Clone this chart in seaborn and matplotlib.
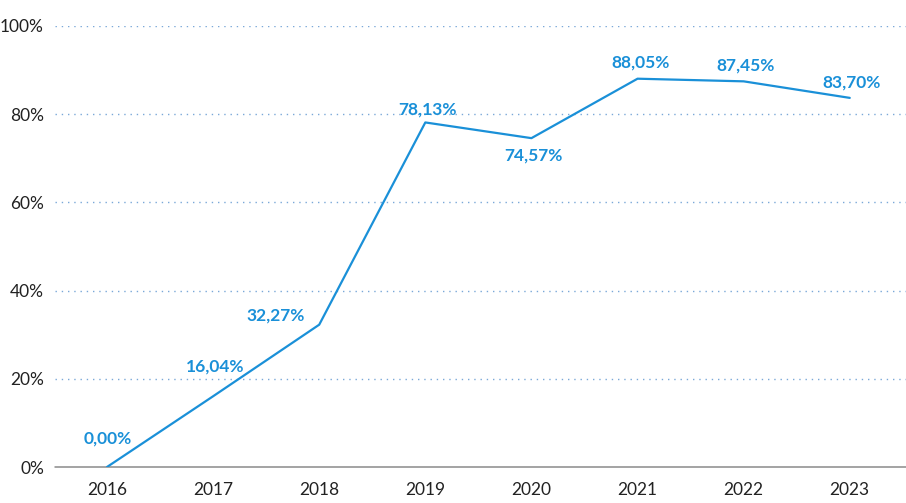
import matplotlib
matplotlib.use("Agg")
import matplotlib.pyplot as plt
import seaborn as sns
import pandas as pd

# === DADOS ===
anos = [2016, 2017, 2018, 2019, 2020, 2021, 2022, 2023]
valores = [0.00, 16.04, 32.27, 78.13, 74.57, 88.05, 87.45, 83.70]
rotulos = ["0,00%", "16,04%", "32,27%", "78,13%", "74,57%", "88,05%", "87,45%", "83,70%"]
# deslocamento dos rótulos (pixels)
offsets = [(1, 28), (2, 30), (-44, 9), (2, 13), (2, -17), (3, 16), (2, 16), (2, 15)]

df = pd.DataFrame({"Ano": anos, "Valor": valores})

azul = "#1a90d8"

sns.set_style("white")
plt.rcParams["font.family"] = ["Lato", "DejaVu Sans"]

fig = plt.figure(figsize=(9.06, 5.03), dpi=100)
ax = fig.add_axes([55 / 906, 1 - 467 / 503, 851 / 906, 441 / 503])

sns.lineplot(data=df, x="Ano", y="Valor", color=azul, linewidth=1.6, ax=ax, zorder=3)

for x, y, txt, (dx, dy) in zip(anos, valores, rotulos, offsets):
    ax.annotate(txt, (x, y), xytext=(dx, dy), textcoords="offset pixels",
                ha="center", va="center", color=azul, fontsize=12.5, fontweight="bold")

ax.set_xlim(2015.51, 2023.53)
ax.set_ylim(0, 100)
ax.set_yticks([0, 20, 40, 60, 80, 100])
ax.set_yticklabels(["0%", "20%", "40%", "60%", "80%", "100%"])
ax.set_xticks(anos)
ax.set_xticklabels([str(a) for a in anos])

for y in [20, 40, 60, 80, 100]:
    ax.axhline(y, color="#7aa8d8", linestyle=(0, (1, 3.5)), linewidth=1, zorder=1)
ax.axhline(0, color="#8a8a8a", linewidth=1.1, zorder=2, clip_on=False)

for s in ax.spines.values():
    s.set_visible(False)
ax.tick_params(axis="both", length=0, labelsize=12.5, colors="#222222")
ax.tick_params(axis="x", pad=11)
ax.tick_params(axis="y", pad=8)
ax.set_xlabel("")
ax.set_ylabel("")

fig.savefig("out.png", dpi=100)
